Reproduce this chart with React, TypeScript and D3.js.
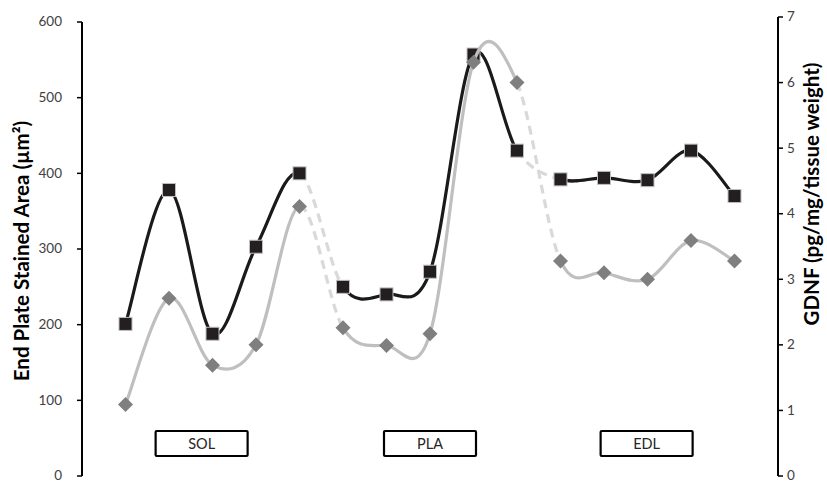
import React from 'react';
import * as d3 from 'd3';

// x positions 1..15, three muscle groups of five
const positions = d3.range(1, 16);
const areaValues = [201, 378, 188, 303, 400, 250, 240, 270, 557, 430, 392, 394, 391, 430, 370];
const gdnfValues = [1.09, 2.71, 1.69, 2.0, 4.11, 2.26, 1.99, 2.17, 6.31, 6.0, 3.28, 3.1, 3.0, 3.59, 3.28];
const leftTicks = [0, 100, 200, 300, 400, 500, 600];
const rightTicks = [0, 1, 2, 3, 4, 5, 6, 7];
const groups = ['SOL', 'PLA', 'EDL'];
const groupCenters = [2.75, 8, 12.98];
// segments that join two groups are drawn dashed
const bridgeSegments = [4, 9];

const width = 827;
const height = 482;
const font = "Lato, 'Open Sans', sans-serif";

const x = d3.scaleLinear().domain([0, 16]).range([82, 778]);
const yLeft = d3.scaleLinear().domain([0, 600]).range([476, 22]);
const yRight = d3.scaleLinear().domain([0, 7]).range([476, 17]);

type Pt = [number, number];

// excel style smoothing: cubic pieces with catmull-rom tangents over the whole series
function segmentPath(pts: Pt[], i: number) {
  const p0 = pts[Math.max(i - 1, 0)];
  const p1 = pts[i];
  const p2 = pts[i + 1];
  const p3 = pts[Math.min(i + 2, pts.length - 1)];
  const p = d3.path();
  p.moveTo(p1[0], p1[1]);
  p.bezierCurveTo(
    p1[0] + (p2[0] - p0[0]) / 6, p1[1] + (p2[1] - p0[1]) / 6,
    p2[0] - (p3[0] - p1[0]) / 6, p2[1] - (p3[1] - p1[1]) / 6,
    p2[0], p2[1]
  );
  return p.toString();
}

function Series({ pts, color, marker }: { pts: Pt[]; color: string; marker: 'square' | 'diamond' }) {
  return (
    <g>
      {pts.slice(0, -1).map((_, i) => {
        const bridge = bridgeSegments.includes(i);
        return (
          <path key={i} d={segmentPath(pts, i)} fill="none"
            stroke={bridge ? '#d9d9d9' : color} strokeWidth={3.2}
            strokeDasharray={bridge ? '9,6' : undefined} strokeLinecap="butt" />
        );
      })}
      {pts.map(([px, py], i) => marker === 'square'
        ? <rect key={i} x={px - 6.5} y={py - 6.5} width={13} height={13} fill="#231f20" stroke="#bfbfbf" strokeWidth={1} />
        : <path key={i} d={`M${px},${py - 7.5}L${px + 7.5},${py}L${px},${py + 7.5}L${px - 7.5},${py}Z`} fill="#7f7f7f" />)}
    </g>
  );
}

export default function App() {
  const blackPts: Pt[] = positions.map((p, i) => [x(p), yLeft(areaValues[i])]);
  const grayPts: Pt[] = positions.map((p, i) => [x(p), yRight(gdnfValues[i])]);
  const x0 = x.range()[0];
  const x1 = x.range()[1];
  return (
    <svg width={width} height={height} style={{ position: 'absolute', left: 0, top: 0, background: '#fff' }}>
      {/* left axis */}
      <line x1={x0} x2={x0} y1={yLeft(600)} y2={yLeft(0)} stroke="#000" strokeWidth={2} />
      {leftTicks.map(t => (
        <g key={t}>
          <line x1={x0 - 5} x2={x0} y1={yLeft(t)} y2={yLeft(t)} stroke="#000" strokeWidth={1.5} />
          <text x={x0 - 20} y={yLeft(t)} dy="0.33em" textAnchor="end" fontSize={13.5} fill="#404040" fontFamily={font}>{t}</text>
        </g>
      ))}
      <text transform={`translate(29,${251}) rotate(-90)`} textAnchor="middle" fontSize={20.5} fontWeight="bold" fill="#000" fontFamily={font}>
        End Plate Stained Area (µm²)
      </text>

      {/* right axis */}
      <line x1={x1} x2={x1} y1={yRight(7)} y2={yRight(0)} stroke="#000" strokeWidth={2} />
      {rightTicks.map(t => (
        <g key={t}>
          <line x1={x1} x2={x1 + 5} y1={yRight(t)} y2={yRight(t)} stroke="#000" strokeWidth={1.5} />
          <text x={x1 + 9} y={yRight(t)} dy="0.33em" textAnchor="start" fontSize={13.5} fill="#404040" fontFamily={font}>{t}</text>
        </g>
      ))}
      <text transform={`translate(819,${194}) rotate(-90)`} textAnchor="middle" fontSize={20.5} fontWeight="bold" fill="#000" fontFamily={font}>
        GDNF (pg/mg/tissue weight)
      </text>

      <Series pts={blackPts} color="#1a1a1a" marker="square" />
      <Series pts={grayPts} color="#bfbfbf" marker="diamond" />

      {/* group labels */}
      {groups.map((g, i) => (
        <g key={g}>
          <rect x={x(groupCenters[i]) - 46} y={431} width={92} height={25} fill="#fff" stroke="#000" strokeWidth={2.2} rx={1} />
          <text x={x(groupCenters[i])} y={443.5} dy="0.35em" textAnchor="middle" fontSize={14.5} fill="#262626" fontFamily={font}>{g}</text>
        </g>
      ))}
    </svg>
  );
}
